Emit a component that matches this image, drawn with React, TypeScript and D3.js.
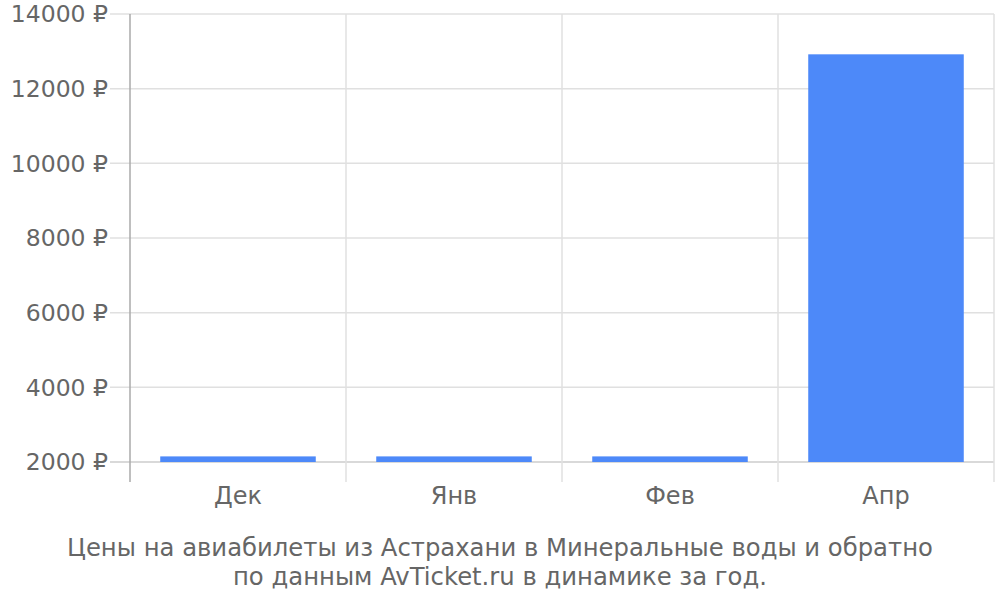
import * as d3 from "d3";

const months = ["Дек", "Янв", "Фев", "Апр"];
const prices = [2150, 2150, 2150, 12920];
const yTicks = [2000, 4000, 6000, 8000, 10000, 12000, 14000];
const titleLines = [
  "Цены на авиабилеты из Астрахани в Минеральные воды и обратно",
  "по данным AvTicket.ru в динамике за год.",
];

const width = 1000;
const height = 600;
const marginLeft = 130;
const marginRight = 6;
const marginTop = 14;
const baseline = 462;
const font = "'DejaVu Sans', sans-serif";
const textColor = "#666666";

export default function App() {
  const x = d3.scaleBand()
    .domain(months)
    .range([marginLeft, width - marginRight])
    .padding(0);

  const y = d3.scaleLinear()
    .domain([2000, 14000])
    .range([baseline, marginTop]);

  const bw = x.bandwidth();
  const barW = bw * 0.72;

  return (
    <svg
      width={width}
      height={height}
      style={{ position: "absolute", left: 0, top: 0, background: "#fff" }}
      fontFamily={font}
    >
      {/* horizontal grid + tick labels */}
      {yTicks.map((t) => (
        <g key={t}>
          <line x1={marginLeft - 20} x2={width - marginRight} y1={y(t)} y2={y(t)}
            stroke={t === 2000 ? "#cccccc" : "#e0e0e0"} strokeWidth={1.5} />
          <text x={marginLeft - 22} y={y(t)} dy="0.35em" textAnchor="end"
            fontSize={23.5} fill={textColor}>{`${t} ₽`}</text>
        </g>
      ))}
      {/* vertical band boundaries */}
      {months.map((m, i) => {
        const xx = marginLeft + bw * (i + 1);
        return <line key={i} x1={xx} x2={xx} y1={marginTop} y2={baseline + 20}
          stroke="#e0e0e0" strokeWidth={1.5} />;
      })}
      {/* bars */}
      {months.map((m, i) => (
        <rect key={m} x={(x(m) ?? 0) + (bw - barW) / 2} width={barW}
          y={y(prices[i])} height={baseline - y(prices[i])} fill="#4d89f9" />
      ))}
      {/* left axis */}
      <line x1={marginLeft} x2={marginLeft} y1={marginTop} y2={baseline + 20}
        stroke="#aaaaaa" strokeWidth={1.5} />
      {/* category labels */}
      {months.map((m) => (
        <text key={m} x={(x(m) ?? 0) + bw / 2} y={496} dy="0.35em" textAnchor="middle"
          fontSize={24} fill={textColor}>{m}</text>
      ))}
      {/* title */}
      {titleLines.map((l, i) => (
        <text key={i} x={500} y={547 + i * 29} dy="0.35em" textAnchor="middle"
          fontSize={24.3} fill={textColor}>{l}</text>
      ))}
    </svg>
  );
}
